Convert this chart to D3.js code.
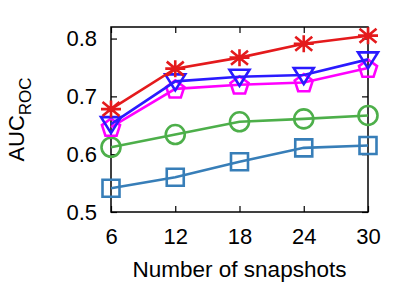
<!DOCTYPE html>
<html>
<head>
<meta charset="utf-8">
<script src="https://cdn.jsdelivr.net/npm/d3@7"></script>
<style>
  body { margin: 0; background: #fff; }
  svg text { font-family: 'Liberation Sans', Arial, sans-serif; }
</style>
</head>
<body>
<div id="chart"></div>
<script>
const snapshots = [6, 12, 18, 24, 30];
const yTicks = [0.5, 0.6, 0.7, 0.8];

const squareVals = [0.541, 0.560, 0.587, 0.611, 0.615];
const circleVals = [0.612, 0.634, 0.656, 0.661, 0.667];
const pentagonVals = [0.647, 0.713, 0.720, 0.724, 0.749];
const triangleVals = [0.652, 0.726, 0.734, 0.737, 0.764];
const starVals = [0.678, 0.748, 0.767, 0.791, 0.805];

const SQUARE_COLOR = '#377eb8';
const CIRCLE_COLOR = '#4daf4a';
const PENTAGON_COLOR = '#ff00ff';
const TRIANGLE_COLOR = '#2a1aff';
const STAR_COLOR = '#e41a1c';

const width = 409, height = 286;
const margin = {top: 27, right: 41, bottom: 74, left: 111};
const w = width - margin.left - margin.right;
const h = height - margin.top - margin.bottom;

const series = [
  {values: squareVals, color: SQUARE_COLOR, shape: 'square'},
  {values: circleVals, color: CIRCLE_COLOR, shape: 'circle'},
  {values: pentagonVals, color: PENTAGON_COLOR, shape: 'pentagon'},
  {values: triangleVals, color: TRIANGLE_COLOR, shape: 'triangle'},
  {values: starVals, color: STAR_COLOR, shape: 'star'}
];

const svg = d3.select('#chart')
  .append('svg')
    .attr('width', width)
    .attr('height', height);

const g = svg.append('g')
  .attr('transform', `translate(${margin.left},${margin.top})`);

const x = d3.scaleLinear().domain([6, 30]).range([0, w]);
const y = d3.scaleLinear().domain([0.5, 0.82]).range([h, 0]);

// axes with inward ticks, mirrored like gnuplot
const fmt = d3.format('.1f');
const styleAxis = sel => {
  sel.select('.domain').remove();
  sel.selectAll('line').attr('stroke', '#000').attr('stroke-width', 1.2);
  sel.selectAll('text').attr('font-size', 22).attr('fill', '#000');
};

g.append('g')
  .attr('transform', `translate(0,${h})`)
  .call(d3.axisBottom(x).tickValues(snapshots).tickSize(-6).tickPadding(16))
  .call(styleAxis);
g.append('g')
  .call(d3.axisTop(x).tickValues(snapshots).tickSize(-6).tickFormat(''))
  .call(styleAxis);
g.append('g')
  .call(d3.axisLeft(y).tickValues(yTicks).tickSize(-6).tickPadding(14).tickFormat(fmt))
  .call(styleAxis);
g.append('g')
  .attr('transform', `translate(${w},0)`)
  .call(d3.axisRight(y).tickValues(yTicks).tickSize(-6).tickFormat(''))
  .call(styleAxis);

g.append('rect')
  .attr('width', w)
  .attr('height', h)
  .attr('fill', 'none')
  .attr('stroke', '#000')
  .attr('stroke-width', 1.5);

const line = d3.line()
  .x((d, i) => x(snapshots[i]))
  .y(d => y(d));

const markerPath = shape => {
  const p = d3.path();
  if (shape === 'square') {
    p.rect(-8.5, -8.5, 17, 17);
  } else if (shape === 'circle') {
    p.arc(0, 0, 9.5, 0, 2 * Math.PI);
  } else if (shape === 'pentagon') {
    for (let k = 0; k < 5; k++) {
      const a = -Math.PI / 2 + k * 2 * Math.PI / 5;
      const px = 9.5 * Math.cos(a), py = 9.5 * Math.sin(a) + 1;
      if (k === 0) p.moveTo(px, py); else p.lineTo(px, py);
    }
    p.closePath();
  } else if (shape === 'triangle') {
    p.moveTo(-10, -7);
    p.lineTo(10, -7);
    p.lineTo(0, 9);
    p.closePath();
  } else {
    p.moveTo(-10, 0); p.lineTo(10, 0);
    p.moveTo(0, -8.5); p.lineTo(0, 8.5);
    p.moveTo(-8.5, -7); p.lineTo(8.5, 7);
    p.moveTo(-8.5, 7); p.lineTo(8.5, -7);
  }
  return p.toString();
};

series.forEach(s => {
  g.append('path')
    .datum(s.values)
    .attr('d', line)
    .attr('fill', 'none')
    .attr('stroke', s.color)
    .attr('stroke-width', 2.6);

  g.selectAll(null)
    .data(s.values)
    .enter().append('path')
      .attr('transform', (d, i) => `translate(${x(snapshots[i])},${y(d)})`)
      .attr('d', markerPath(s.shape))
      .attr('fill', 'none')
      .attr('stroke', s.color)
      .attr('stroke-width', 2.6);
});

// axis titles
svg.append('text')
  .attr('x', margin.left + w / 2)
  .attr('y', 277)
  .attr('text-anchor', 'middle')
  .attr('font-size', 22.5)
  .text('Number of snapshots');

const yLabel = svg.append('text')
  .attr('transform', `translate(24,${margin.top + h / 2}) rotate(-90)`)
  .attr('text-anchor', 'middle')
  .attr('font-size', 22);
yLabel.append('tspan').text('AUC');
yLabel.append('tspan')
  .attr('font-size', 17)
  .attr('dy', 7)
  .text('ROC');
</script>
</body>
</html>
